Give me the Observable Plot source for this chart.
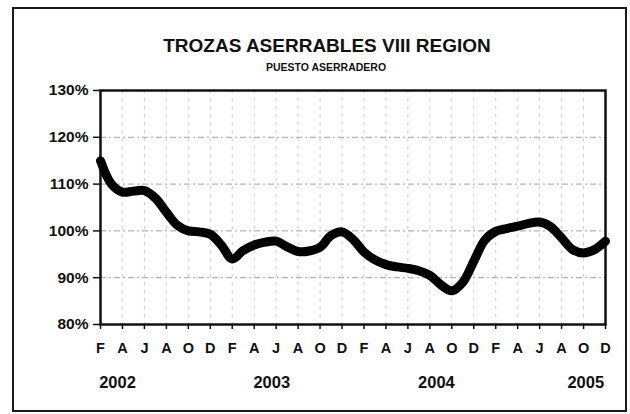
<!DOCTYPE html>
<html>
<head>
<meta charset="utf-8">
<script src="https://cdn.jsdelivr.net/npm/d3@7"></script>
<script src="https://cdn.jsdelivr.net/npm/@observablehq/plot@0.6"></script>
<style>
  html, body { margin: 0; padding: 0; background: #fff; }
  #wrap { position: relative; width: 630px; height: 414px; }
  #box { position: absolute; left: 12px; top: 7px; width: 611px; height: 401px; border: 2px solid #1a1a1a; pointer-events: none; }
</style>
</head>
<body>
<div id="wrap"><div id="box"></div></div>
<script>
const title = "TROZAS ASERRABLES VIII REGION";
const subtitle = "PUESTO ASERRADERO";
// monthly index values, Feb 2002 .. Dec 2005
const values = [
  115, 110, 108.3, 108.5, 108.6, 107, 104, 101.2, 100, 99.8, 99.3,
  97, 94, 95.8, 97, 97.6, 97.8, 96.6, 95.6, 95.7, 96.5, 99, 99.8,
  98.2, 95.5, 93.8, 92.8, 92.3, 92, 91.5, 90.5, 88.5, 87.2, 89, 93.5,
  98, 99.9, 100.5, 101, 101.6, 101.9, 100.9, 98.5, 96, 95.3, 96, 97.8
];
const tickLabels = [
  "F","A","J","A","O","D",
  "F","A","J","A","O","D",
  "F","A","J","A","O","D",
  "F","A","J","A","O","D"
];
const years = ["2002", "2003", "2004", "2005"];
const yearPos = [1.55, 15.6, 30.6, 44.2];
const yTicks = [80, 90, 100, 110, 120, 130];

const xTicks = tickLabels.map((_, i) => i * 2);
const data = values.map((v, i) => ({m: i, v}));
const yearData = years.map((y, i) => ({label: y, m: yearPos[i]}));

const chart = Plot.plot({
  width: 630,
  height: 414,
  marginLeft: 100,
  marginRight: 25,
  marginTop: 90,
  marginBottom: 90,
  style: {fontFamily: "'Liberation Sans', Arial, sans-serif", fontWeight: "bold", color: "#111", background: "transparent", overflow: "visible"},
  x: {domain: [0, 46], label: null},
  y: {domain: [80, 130], label: null},
  marks: [
    Plot.gridX(xTicks, {stroke: "#999", strokeOpacity: 0.5, strokeDasharray: "3,5"}),
    Plot.gridY([90, 100, 110, 120], {stroke: "#777", strokeOpacity: 0.7, strokeDasharray: "6,3,2,3"}),
    Plot.axisY(yTicks, {label: null, tickFormat: d => d + "%", tickSize: 7, tickPadding: 5, fontSize: 15.5, fontWeight: "bold", strokeWidth: 1.5, stroke: "#111"}),
    Plot.axisX(xTicks, {label: null, tickFormat: d => tickLabels[d / 2], tickSize: 5, tickPadding: 13, fontSize: 14.5, fontWeight: "bold", strokeWidth: 1.5, stroke: "#111"}),
    Plot.frame({stroke: "#111", strokeWidth: 2.5}),
    Plot.line(data, {x: "m", y: "v", curve: "catmull-rom", stroke: "#000", strokeWidth: 9, strokeLinecap: "round", strokeLinejoin: "round"}),
    Plot.text(yearData, {x: "m", text: "label", frameAnchor: "bottom", dy: 63, fontSize: 16.5, fontWeight: "bold", fill: "#111"}),
    Plot.text([title], {frameAnchor: "top", dx: -26, dy: -52, fontSize: 19, fontWeight: "bold", fill: "#111"}),
    Plot.text([subtitle], {frameAnchor: "top", dx: -27, dy: -27, fontSize: 10.5, fontWeight: "900", fill: "#111"})
  ]
});
document.getElementById("wrap").prepend(chart);
</script>
</body>
</html>
